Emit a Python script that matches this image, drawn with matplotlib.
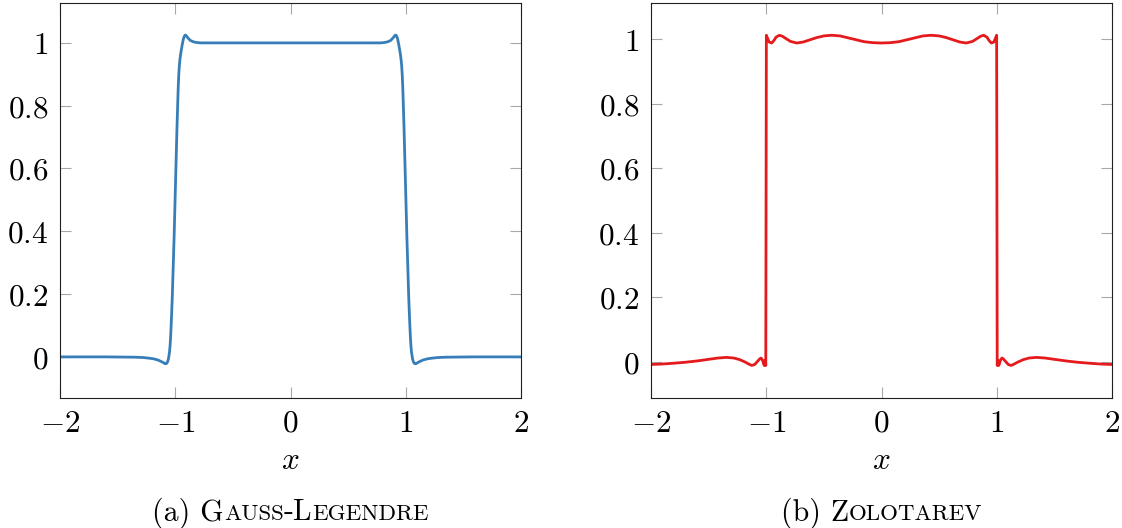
import numpy as np
import matplotlib
matplotlib.use('Agg')
import matplotlib.pyplot as plt

plt.rcParams['mathtext.fontset'] = 'cm'

# Gauss-Legendre curve
gl_x = [-2.0, -1.6, -1.35, -1.28, -1.23, -1.19, -1.15, -1.12, -1.1, -1.087, -1.075, -1.067,
        -1.06, -1.055, -1.05, -1.045, -1.04, -1.035, -1.03, -1.025, -1.02, -1.015, -1.01,
        -1.005, -1.0, -0.995, -0.99, -0.985, -0.98, -0.975, -0.97, -0.965, -0.96, -0.955,
        -0.95, -0.94, -0.93, -0.92, -0.913, -0.905, -0.89, -0.87, -0.84, -0.81, -0.78, -0.7,
        -0.4, 0.0,
        0.4, 0.7, 0.78, 0.81, 0.84, 0.87, 0.89, 0.905, 0.913, 0.92, 0.93, 0.94, 0.95,
        0.955, 0.96, 0.965, 0.97, 0.975, 0.98, 0.985, 0.99, 0.995, 1.0, 1.005, 1.01,
        1.015, 1.02, 1.025, 1.03, 1.035, 1.04, 1.045, 1.05, 1.055, 1.06, 1.067, 1.075,
        1.087, 1.1, 1.12, 1.15, 1.19, 1.23, 1.28, 1.35, 1.6, 2.0]
gl_y = [0.0, 0.0, -0.001, -0.002, -0.004, -0.006, -0.010, -0.015, -0.019, -0.022, -0.021, -0.016,
        -0.008, 0.003, 0.015, 0.035, 0.065, 0.105, 0.15, 0.20, 0.26, 0.32, 0.38,
        0.45, 0.52, 0.59, 0.66, 0.73, 0.79, 0.85, 0.895, 0.925, 0.945, 0.96,
        0.972, 0.993, 1.012, 1.022, 1.025, 1.023, 1.016, 1.008, 1.003, 1.001, 1.0, 1.0,
        1.0, 1.0,
        1.0, 1.0, 1.0, 1.001, 1.003, 1.008, 1.016, 1.023, 1.025, 1.022, 1.012, 0.993, 0.972,
        0.96, 0.945, 0.925, 0.895, 0.85, 0.79, 0.73, 0.66, 0.59, 0.52, 0.45, 0.38,
        0.32, 0.26, 0.20, 0.15, 0.105, 0.065, 0.035, 0.015, 0.003, -0.008, -0.016, -0.021,
        -0.022, -0.019, -0.015, -0.010, -0.006, -0.004, -0.002, -0.001, 0.0, 0.0]

# Zolotarev curve
zo_x = [-2.0, -1.9, -1.8, -1.7, -1.6, -1.5, -1.42, -1.345, -1.28, -1.23, -1.18, -1.15,
        -1.125, -1.1, -1.075, -1.055, -1.045, -1.033, -1.022, -1.017, -1.012, -1.004,
        -0.999, -0.99, -0.975, -0.953, -0.935, -0.915, -0.887, -0.86, -0.83, -0.79,
        -0.736, -0.68, -0.62, -0.56, -0.5, -0.432, -0.36, -0.29, -0.22, -0.15, -0.075, 0.0,
        0.075, 0.15, 0.22, 0.29, 0.36, 0.432, 0.5, 0.56, 0.62, 0.68, 0.736,
        0.79, 0.83, 0.86, 0.887, 0.915, 0.935, 0.953, 0.975, 0.99, 0.999,
        1.004, 1.012, 1.017, 1.022, 1.033, 1.045, 1.055, 1.075, 1.1, 1.125,
        1.15, 1.18, 1.23, 1.28, 1.345, 1.42, 1.5, 1.6, 1.7, 1.8, 1.9, 2.0]
zo_y = [-0.009, -0.0075, -0.005, -0.002, 0.002, 0.007, 0.011, 0.013, 0.011, 0.006, -0.002, -0.008,
        -0.012, -0.009, 0.001, 0.009, 0.011, 0.005, -0.008, -0.012, 0.003, -0.012,
        1.012, 1.004, 0.991, 0.988, 0.995, 1.006, 1.012, 1.009, 1.002, 0.993,
        0.988, 0.991, 0.998, 1.005, 1.010, 1.012, 1.010, 1.004, 0.998, 0.992, 0.989, 0.988,
        0.989, 0.992, 0.998, 1.004, 1.010, 1.012, 1.010, 1.005, 0.998, 0.991, 0.988,
        0.993, 1.002, 1.009, 1.012, 1.006, 0.995, 0.988, 0.991, 1.004, 1.012,
        -0.012, 0.003, -0.012, -0.008, 0.005, 0.011, 0.009, 0.001, -0.009, -0.012,
        -0.008, -0.002, 0.006, 0.011, 0.013, 0.011, 0.007, 0.002, -0.002, -0.005, -0.0075, -0.009]

x_ticks = [-2, -1, 0, 1, 2]
x_ticklabels = [r'$-2$', r'$-1$', r'$0$', r'$1$', r'$2$']
y_ticks = [0, 0.2, 0.4, 0.6, 0.8, 1]
y_ticklabels = [r'$0$', r'$0.2$', r'$0.4$', r'$0.6$', r'$0.8$', r'$1$']

fig = plt.figure(figsize=(11.22, 5.28), dpi=100)
ax1 = fig.add_axes([60 / 1122, 130.3 / 528, 461 / 1122, 395 / 528])
ax2 = fig.add_axes([651 / 1122, 130.3 / 528, 461 / 1122, 395 / 528])

ax1.plot(gl_x, gl_y, color='#377eb8', linewidth=2.0, solid_joinstyle='round')
ax2.plot(zo_x, zo_y, color='#e41a1c', linewidth=2.0, solid_joinstyle='round')

ax1.set_ylim(-0.13, 1.128)
ax2.set_ylim(-0.112, 1.113)

for ax in [ax1, ax2]:
    ax.set_xlim(-2, 2)
    ax.set_xticks(x_ticks)
    ax.set_xticklabels(x_ticklabels)
    ax.set_yticks(y_ticks)
    ax.set_yticklabels(y_ticklabels)
    ax.tick_params(direction='in', length=8, width=0.8, color='#a8a8a8',
                   labelsize=22.5, top=True, right=True)
    ax.tick_params(axis='y', pad=8.5)
    ax.tick_params(axis='x', pad=8)
    for sp in ax.spines.values():
        sp.set_linewidth(0.8)
        sp.set_color('#202020')
    ax.set_xlabel(r'$x$', fontsize=22.5, labelpad=6)


# captions in small caps, put together piece by piece
def caption(xc, y, parts):
    r = fig.canvas.get_renderer()
    texts = [fig.text(0, y, s, fontsize=sz, family='cmr10', va='baseline') for s, sz in parts]
    widths = [t.get_window_extent(r).width / fig.bbox.width for t in texts]
    x = xc - sum(widths) / 2
    for t, w in zip(texts, widths):
        t.set_x(x)
        x += w


big, small = 21.5, 16.5
caption((60 + 461 / 2) / 1122, 7.5 / 528,
        [('(a) G', big), ('AUSS', small), ('-L', big), ('EGENDRE', small)])
caption((651 + 461 / 2) / 1122, 7.5 / 528,
        [('(b) Z', big), ('OLOTAREV', small)])

fig.savefig('out.png', dpi=100)
